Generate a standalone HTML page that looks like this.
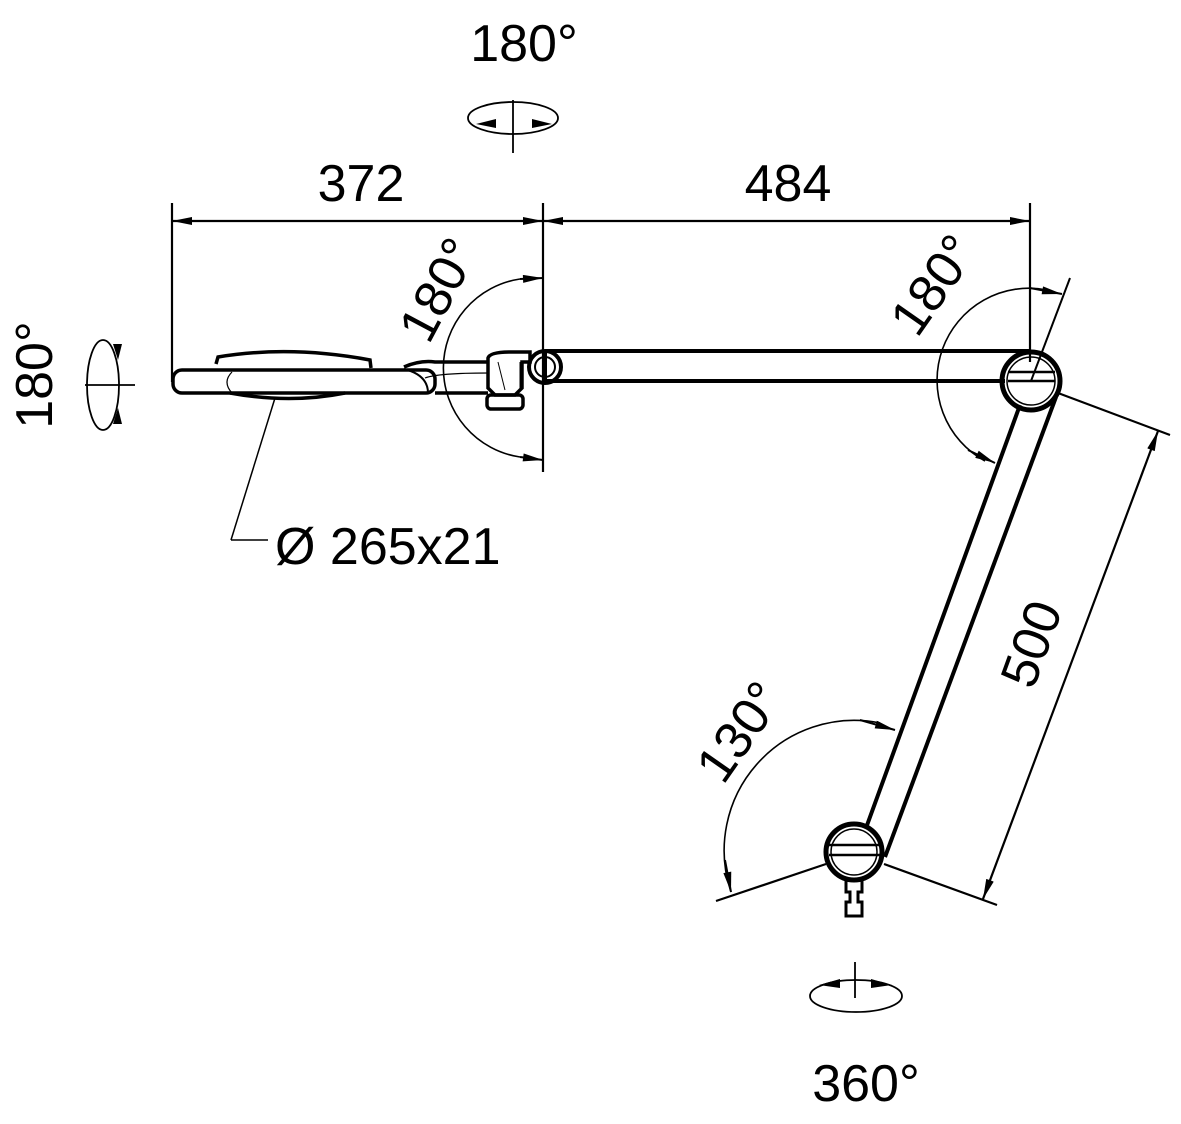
<!DOCTYPE html>
<html><head><style>html,body{margin:0;padding:0;background:#fff}svg{display:block}</style></head>
<body>
<svg width="1181" height="1124" viewBox="0 0 1181 1124" xmlns="http://www.w3.org/2000/svg" font-family="Liberation Sans, sans-serif" fill="none" stroke="#000">
<defs>
<marker id="a" viewBox="0 0 20 8" refX="20" refY="4" markerWidth="22" markerHeight="8" markerUnits="userSpaceOnUse" orient="auto-start-reverse"><path d="M0 0L20 4L0 8Z" fill="#000" stroke="none"/></marker>
</defs>
<g stroke-width="2.2">
<line x1="172" y1="203" x2="172" y2="382"/>
<line x1="543" y1="203" x2="543" y2="472"/>
<line x1="1030" y1="203" x2="1030" y2="362"/>
<line x1="172" y1="221" x2="543" y2="221" marker-start="url(#a)" marker-end="url(#a)"/>
<line x1="543" y1="221" x2="1030" y2="221" marker-start="url(#a)" marker-end="url(#a)"/>
</g>
<g fill="#000" stroke="none" font-size="52">
<text x="361" y="201" text-anchor="middle">372</text>
<text x="788" y="201" text-anchor="middle">484</text>
<text x="524" y="61" text-anchor="middle">180°</text>
<text x="866" y="1101" text-anchor="middle">360°</text>
<text x="275" y="564">Ø 265x21</text>
<text transform="translate(52,375) rotate(-90)" text-anchor="middle">180°</text>
<text transform="translate(454,298) rotate(-62)" text-anchor="middle">180°</text>
<text transform="translate(948,295) rotate(-55)" text-anchor="middle">180°</text>
<text transform="translate(754,742) rotate(-55)" text-anchor="middle">130°</text>
<text transform="translate(1048,650) rotate(-70)" text-anchor="middle">500</text>
</g>
<g stroke-width="1.8">
<ellipse cx="513" cy="118" rx="45" ry="16"/>
<line x1="513" y1="100" x2="513" y2="153"/>
<ellipse cx="103" cy="385" rx="16" ry="45"/>
<line x1="85" y1="385" x2="135" y2="385"/>
<ellipse cx="856" cy="996" rx="46" ry="16"/>
<line x1="855" y1="962" x2="855" y2="998"/>
</g>
<g fill="#000" stroke="none">
<path d="M476 124L496 119L496 128Z"/><path d="M552 124L532 119L532 128Z"/>
<path d="M118 360L113 344L122 344Z"/><path d="M118 408L113 424L122 424Z"/>
<path d="M819 985L840 979L840 988Z"/><path d="M892 985L871 979L871 988Z"/>
</g>
<g stroke-width="3.5">
<rect x="173" y="370" width="262" height="23" rx="9"/>
<path d="M216 364L218 357Q290 345 370 360L371 368"/>
<path d="M230 393Q290 404 345 393"/>
<path d="M232 372Q222 382 232 393" stroke-width="1.2"/>
<path d="M404 367Q420 360 435 362L487 362"/>
<path d="M435 393L488 393"/>
<path d="M404 369Q428 375 428 393" stroke-width="2"/>
<path d="M425 378Q438 373 488 373" stroke-width="1.2"/>
<path d="M488 358Q490 352 510 352L530 352L530 362L522 362L522 388L515 395L495 395L488 388Z"/>
<rect x="487" y="395" width="36" height="14" rx="4"/>
<line x1="520" y1="362" x2="520" y2="390" stroke-width="1"/>
<path d="M498 362L505 390" stroke-width="1"/>
</g>
<line x1="275" y1="398" x2="231" y2="540" stroke-width="1.5"/>
<line x1="231" y1="540" x2="268" y2="540" stroke-width="1.5"/>
<g stroke-width="4">
<line x1="545" y1="351" x2="1031" y2="351"/>
<line x1="545" y1="381" x2="1005" y2="381"/>
<circle cx="545" cy="367" r="16"/>
<circle cx="545" cy="367" r="10" stroke-width="2"/>
<line x1="545" y1="351" x2="545" y2="383" stroke-width="4"/>
</g>
<g stroke-width="4">
<circle cx="1031" cy="381" r="29" stroke-width="5"/>
<circle cx="1031" cy="381" r="24" stroke-width="1.5"/>
<line x1="1008" y1="381" x2="1055" y2="381" stroke-width="2.5"/>
<line x1="1008" y1="372" x2="1055" y2="372" stroke-width="2.5"/>
<line x1="1020" y1="405" x2="866" y2="828"/>
<line x1="1056" y1="397" x2="885" y2="857"/>
</g>
<g stroke-width="4">
<circle cx="854" cy="852" r="28" stroke-width="5"/>
<circle cx="854" cy="852" r="23" stroke-width="1.5"/>
<line x1="829" y1="845" x2="880" y2="845" stroke-width="2.5"/>
<line x1="829" y1="855" x2="880" y2="855" stroke-width="2.5"/>
<path d="M846 880h16v12h-4v10h4v14h-16v-14h4v-10h-4z" stroke-width="3"/>
</g>
<g stroke-width="1.6">
<path d="M520 279A90 90 0 0 0 520 457"/>
<line x1="520" y1="279" x2="543" y2="278" stroke-width="2" marker-end="url(#a)"/>
<line x1="520" y1="457" x2="543" y2="460" stroke-width="2" marker-end="url(#a)"/>
<path d="M1047 290A92 92 0 0 0 985 461"/>
<line x1="1031" y1="381" x2="1070" y2="278" stroke-width="2"/>
<line x1="1030" y1="288" x2="1062" y2="294" stroke-width="2" marker-end="url(#a)"/>
<line x1="968" y1="450" x2="995" y2="463" stroke-width="2" marker-end="url(#a)"/>
<path d="M880 723A130 130 0 0 0 731 892"/>
<line x1="860" y1="720" x2="895" y2="730" stroke-width="2" marker-end="url(#a)"/>
<line x1="725" y1="860" x2="731" y2="892" stroke-width="2" marker-end="url(#a)"/>
<line x1="826" y1="864" x2="716" y2="901" stroke-width="2.2"/>
<line x1="884" y1="864" x2="997" y2="905" stroke-width="2.2"/>
<line x1="1058" y1="393" x2="1170" y2="435" stroke-width="2.2"/>
<line x1="1158" y1="431" x2="983" y2="899" stroke-width="2.2" marker-start="url(#a)" marker-end="url(#a)"/>
</g>
</svg>
</body></html>
